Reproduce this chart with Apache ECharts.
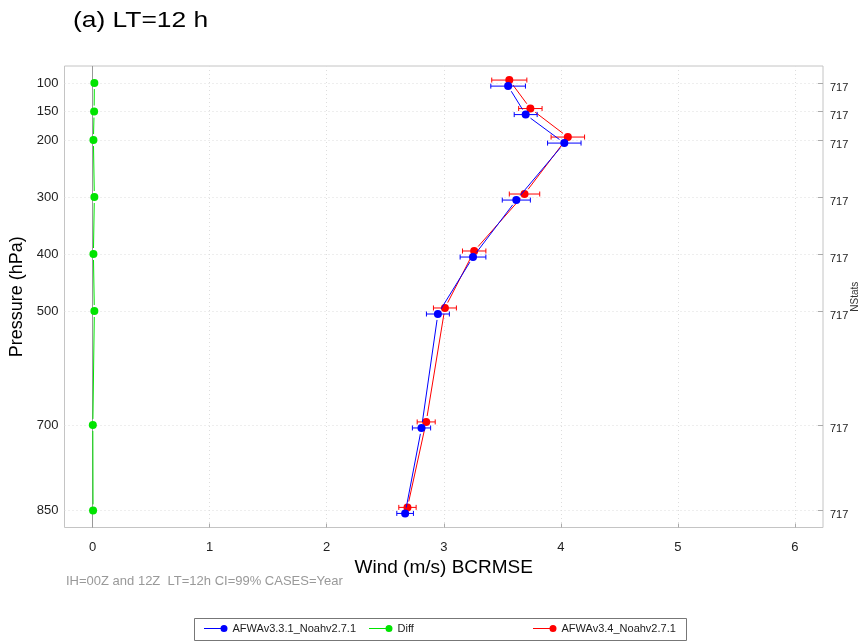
<!DOCTYPE html>
<html>
<head>
<meta charset="utf-8">
<script src="https://cdn.jsdelivr.net/npm/echarts@6/dist/echarts.min.js"></script>
<style>
html,body{margin:0;padding:0;background:#fff;}
#chart{width:861px;height:643px;}
</style>
</head>
<body>
<div id="chart"></div>
<script>
// ---- data ----
const levels = [100, 150, 200, 300, 400, 500, 700, 850];
const nstats = [717, 717, 717, 717, 717, 717, 717, 717];
const xTicks = [0, 1, 2, 3, 4, 5, 6];
const blueName = 'AFWAv3.3.1_Noahv2.7.1';
const redName = 'AFWAv3.4_Noahv2.7.1';
const diffName = 'Diff';
const blueVals = [3.55, 3.70, 4.03, 3.62, 3.25, 2.95, 2.81, 2.67];
const blueErr  = [0.148, 0.098, 0.143, 0.120, 0.110, 0.098, 0.078, 0.071];
const redVals  = [3.56, 3.74, 4.06, 3.69, 3.26, 3.01, 2.85, 2.69];
const redErr   = [0.150, 0.100, 0.143, 0.130, 0.100, 0.098, 0.077, 0.074];
const diffVals = [0.015, 0.013, 0.007, 0.015, 0.007, 0.015, 0.002, 0.004];
const diffErr  = [0.010, 0.010, 0.010, 0.010, 0.010, 0.010, 0.010, 0.010];

// ---- styling / layout ----
const FONT = '"Liberation Sans", Arial, sans-serif';
const BLUE = '#0000ff', RED = '#ff0000', GREEN = '#00e400';
const JITTER = 5.3; // vertical display offset (hPa) for the two models

function pts(vals, off) { return vals.map((v, i) => [v, levels[i] + off]); }
function errs(vals, e, off) { return vals.map((v, i) => [v, levels[i] + off, e[i]]); }
function segs(vals, off) {
  const out = [];
  for (let i = 0; i < vals.length - 1; i++) out.push([vals[i], levels[i] + off, vals[i + 1], levels[i + 1] + off]);
  return out;
}
function errRender(color) {
  return function (params, api) {
    const x = api.value(0), y = api.value(1), e = api.value(2);
    const p1 = api.coord([x - e, y]), p2 = api.coord([x + e, y]);
    const c = 2.5;
    const st = { stroke: color, lineWidth: 1 };
    return { type: 'group', children: [
      { type: 'line', shape: { x1: p1[0], y1: p1[1], x2: p2[0], y2: p2[1] }, style: st },
      { type: 'line', shape: { x1: p1[0], y1: p1[1] - c, x2: p1[0], y2: p1[1] + c }, style: st },
      { type: 'line', shape: { x1: p2[0], y1: p2[1] - c, x2: p2[0], y2: p2[1] + c }, style: st }
    ]};
  };
}
function segRender(color) {
  return function (params, api) {
    const a = api.coord([api.value(0), api.value(1)]);
    const b = api.coord([api.value(2), api.value(3)]);
    const dx = b[0] - a[0], dy = b[1] - a[1], L = Math.hypot(dx, dy), g = 6;
    if (L <= 2 * g) return null;
    const ux = dx / L, uy = dy / L;
    return { type: 'line', shape: { x1: a[0] + ux * g, y1: a[1] + uy * g, x2: b[0] - ux * g, y2: b[1] - uy * g },
      style: { stroke: color, lineWidth: 1 } };
  };
}
function group(name, color, vals, e, off, z) {
  return [
    { name: name, type: 'custom', renderItem: segRender(color), data: segs(vals, off),
      encode: { x: [0, 2], y: [1, 3] }, itemStyle: { color: color }, z: z, silent: true },
    { name: name, type: 'custom', renderItem: errRender(color), data: errs(vals, e, off),
      encode: { x: 0, y: 1 }, itemStyle: { color: color }, z: z, silent: true },
    { name: name, type: 'scatter', data: pts(vals, off), symbol: 'circle', symbolSize: 8,
      itemStyle: { color: color, opacity: 1 }, z: z + 1, silent: true }
  ];
}

const LEG_ICON = 'path://M0,3.5 L20,3.5 L20,4.5 L0,4.5 Z M23.5,4 A3.5,3.5 0 1,1 16.5,4 A3.5,3.5 0 1,1 23.5,4 Z';
function legend(name, left) {
  return { data: [name], left: left, top: 623, icon: LEG_ICON, itemWidth: 23.5, itemHeight: 7,
    itemGap: 0, padding: 0, selectedMode: false,
    textStyle: { fontFamily: FONT, fontSize: 11, color: '#222' } };
}

const chart = echarts.init(document.getElementById('chart'));
const series = [].concat(
  group(diffName, GREEN, diffVals, diffErr, 0, 3),
  group(redName, RED, redVals, redErr, -JITTER, 5),
  group(blueName, BLUE, blueVals, blueErr, JITTER, 7)
);
series[2].markLine = {
  silent: true, symbol: 'none', label: { show: false },
  lineStyle: { color: '#999', type: 'solid', width: 1 },
  data: [{ xAxis: 0 }], z: 1
};

chart.setOption({
  animation: false,
  backgroundColor: '#fff',
  textStyle: { fontFamily: FONT },
  grid: { left: 64.5, right: 38, top: 66, bottom: 115.5, show: true, borderColor: '#c4c4c4', borderWidth: 1,
    containLabel: false, outerBoundsMode: 'none' },
  xAxis: {
    type: 'value', min: -0.24, max: 6.24,
    name: 'Wind (m/s) BCRMSE', nameLocation: 'middle', nameGap: 30,
    nameTextStyle: { fontFamily: FONT, fontSize: 19, color: '#000' },
    axisLine: { show: false },
    axisTick: { show: true, inside: true, length: 4, customValues: xTicks, lineStyle: { color: '#aaa' } },
    axisLabel: { customValues: xTicks, margin: 13, fontFamily: FONT, fontSize: 13, color: '#222' },
    splitLine: { show: true, lineStyle: { color: '#ddd', type: [1, 3], width: 1 } }
  },
  yAxis: [{
    type: 'value', inverse: true, min: 70, max: 880, position: 'left',
    name: 'Pressure (hPa)', nameLocation: 'middle', nameGap: 38,
    nameTextStyle: { fontFamily: FONT, fontSize: 18, color: '#000' },
    axisLine: { show: false },
    axisTick: { show: true, inside: true, length: 4, customValues: levels, lineStyle: { color: '#aaa' } },
    axisLabel: { customValues: levels, margin: 6, fontFamily: FONT, fontSize: 13, color: '#222' },
    splitLine: { show: true, lineStyle: { color: '#ddd', type: [1, 3], width: 1 } }
  }, {
    type: 'value', inverse: true, min: 70, max: 880, position: 'right',
    name: 'NStats', nameLocation: 'middle', nameGap: 27, nameRotate: 90, nameMoveOverlap: false,
    nameTextStyle: { fontFamily: FONT, fontSize: 10, color: '#333' },
    axisLine: { show: false },
    axisTick: { show: true, inside: true, length: 5, customValues: levels, lineStyle: { color: '#aaa' } },
    axisLabel: { customValues: levels, margin: 7, fontFamily: FONT, fontSize: 11, color: '#222',
      verticalAlign: 'top', lineHeight: 9,
      formatter: function (v) { const i = levels.indexOf(v); return i >= 0 ? String(nstats[i]) : ''; } },
    splitLine: { show: false }
  }],
  legend: [legend(blueName, 204), legend(diffName, 369), legend(redName, 533)],
  graphic: [
    { type: 'text', left: 73, top: 10, scaleX: 1.2, style: { text: '(a) LT=12 h', font: '22px ' + FONT, fill: '#000' } },
    { type: 'text', left: 66, top: 575, style: { text: 'IH=00Z and 12Z  LT=12h CI=99% CASES=Year', font: '13px ' + FONT, fill: '#999' } },
    { type: 'rect', shape: { x: 194.5, y: 618.5, width: 492, height: 22 }, style: { fill: 'none', stroke: '#777', lineWidth: 1 }, z: -1 }
  ],
  series: series
});
</script>
</body>
</html>
